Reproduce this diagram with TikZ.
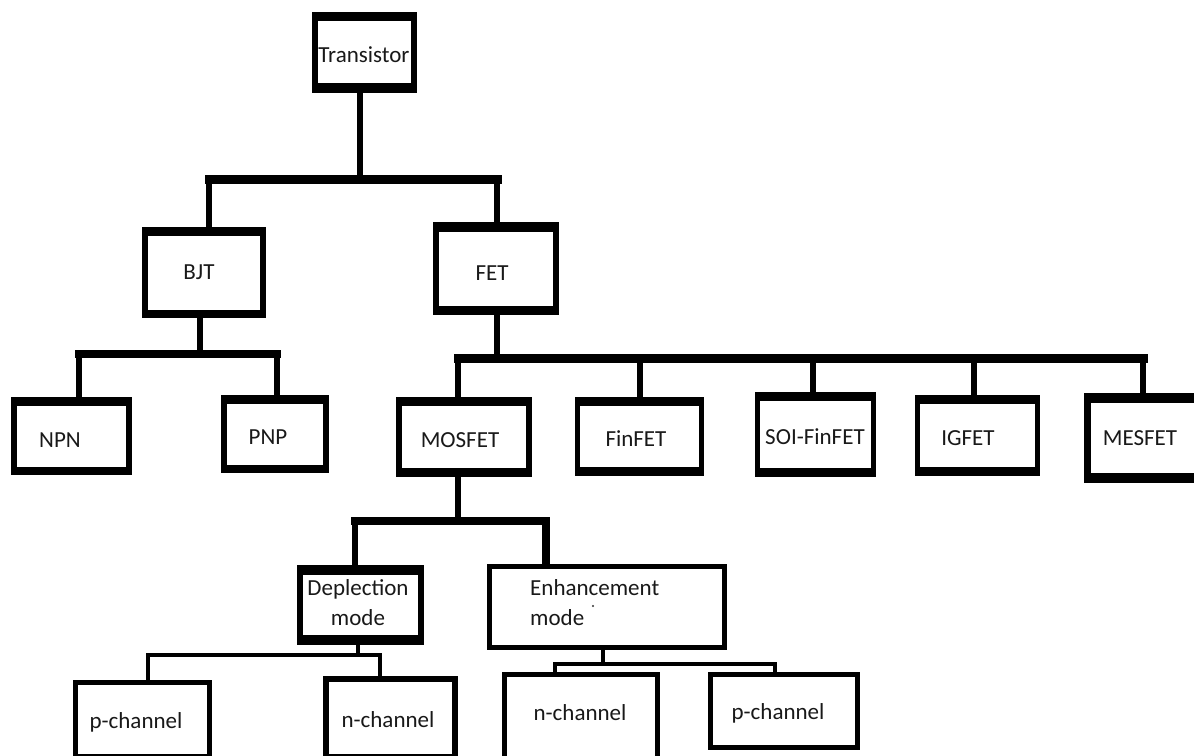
\documentclass[tikz,border=0pt]{standalone}
\usepackage{fontspec}
\setmainfont{Carlito}
\usetikzlibrary{fit}
% name, x1, y1, x2, y2, side, top, bottom
\newcommand\tboxdraw[8]{%
  \fill[black] (#2,#3) rectangle (#4,#5);
  \fill[white] (#2+#6,#3+#7) rectangle (#4-#6,#5-#8);
  \node[fit={(#2,#3) (#4,#5)}, inner sep=0pt] (#1) {};}
\begin{document}
\begin{tikzpicture}[x=1pt, y=-1pt,
  stem/.style={line width=6pt},
  bar/.style={line width=9pt, line cap=rect},
  thinline/.style={line width=4pt, line cap=rect},
  lbl/.style={font=\fontsize{23}{30}\selectfont, inner sep=0pt, text=black!90}]
\useasboundingbox (0,0) rectangle (1194,755);
\clip (0,0) rectangle (1194,755);
\fill[white] (0,0) rectangle (1194,755);

% junction coordinates
\coordinate (j0) at (360,179);
\coordinate (jb) at (209,179);
\coordinate (jf) at (497,179);
\coordinate (jb0) at (200,354);
\coordinate (jnpn) at (79,354);
\coordinate (jpnp) at (277,354);
\coordinate (jf0) at (497,358.5);
\coordinate (jmos) at (458,358.5);
\coordinate (jfin) at (640,358.5);
\coordinate (jsoi) at (813,358.5);
\coordinate (jig) at (974,358.5);
\coordinate (jmes) at (1143,358.5);
\coordinate (jm0) at (458,521);
\coordinate (jdep) at (355,521);
\coordinate (jenh) at (546,521);
\coordinate (jd0) at (358,655);
\coordinate (jpl) at (148,655);
\coordinate (jnl) at (380,655);
\coordinate (je0) at (603,664);
\coordinate (jnr) at (555,664);
\coordinate (jpr) at (775,664);

% boxes (named nodes)
\tboxdraw{T}{312}{12}{417}{93}{6}{9}{10}
\tboxdraw{BJT}{142}{227}{266}{318}{6}{9}{8}
\tboxdraw{FET}{433}{222}{559}{315}{6}{10}{9}
\tboxdraw{NPN}{11}{397}{132}{475}{6}{9}{8}
\tboxdraw{PNP}{221}{395}{329}{473}{6}{9}{8}
\tboxdraw{MOS}{396}{397}{532}{477}{6}{9}{9}
\tboxdraw{FIN}{575}{397}{704}{476}{5}{9}{9}
\tboxdraw{SOI}{755}{392}{876}{477}{5}{9}{9}
\tboxdraw{IG}{915}{395}{1040}{476}{5}{9}{9}
\tboxdraw{MES}{1084}{393}{1214}{483}{7}{10}{10}
\tboxdraw{DEP}{297}{565}{424}{645}{6}{10}{10}
\tboxdraw{ENH}{487}{564}{727}{650}{5}{5}{5}
\tboxdraw{PL}{73}{680}{212}{757}{5}{5}{3}
\tboxdraw{NL}{323}{676}{458}{757}{6}{6}{3}
\tboxdraw{NR}{502}{672}{660}{780}{5}{5}{5}
\tboxdraw{PR}{708}{672}{860}{750}{5}{5}{5}

% connectors
\draw[stem] (T.south -| j0) -- (j0);
\draw[bar] (jb) -- (jf);
\draw[stem] (jb) -- (jb |- BJT.north);
\draw[stem] (jf) -- (jf |- FET.north);

\draw[stem] (BJT.south -| jb0) -- (jb0);
\draw[bar, line width=8pt] (jnpn) -- (jpnp);
\draw[stem] (jnpn) -- (jnpn |- NPN.north);
\draw[stem] (jpnp) -- (jpnp |- PNP.north);

\draw[stem] (FET.south -| jf0) -- (jf0);
\draw[bar] (jmos) -- (jmes);
\draw[stem] (jmos) -- (jmos |- MOS.north);
\draw[stem] (jfin) -- (jfin |- FIN.north);
\draw[stem] (jsoi) -- (jsoi |- SOI.north);
\draw[stem] (jig) -- (jig |- IG.north);
\draw[stem] (jmes) -- (jmes |- MES.north);

\draw[stem] (MOS.south -| jm0) -- (jm0);
\draw[bar, line width=8pt] (jdep) -- (jenh);
\draw[stem] (jdep) -- (jdep |- DEP.north);
\draw[stem, line width=8pt] (jenh) -- (jenh |- ENH.north);

\draw[thinline] (DEP.south -| jd0) -- (jd0);
\draw[thinline] (jpl) -- (jnl);
\draw[thinline] (jpl) -- (jpl |- PL.north);
\draw[thinline] (jnl) -- (jnl |- NL.north);

\draw[thinline, line width=3.5pt] (ENH.south -| je0) -- (je0);
\draw[thinline] (jnr) -- (jpr);
\draw[thinline] (jnr) -- (jnr |- NR.north);
\draw[thinline] (jpr) -- (jpr |- PR.north);

% labels
\node[lbl] (tT) at (364,55) {Transistor};
\node[lbl] (tBJT) at (199,272) {BJT};
\node[lbl] (tFET) at (492,273) {FET};
\node[lbl] (tNPN) at (60,440) {NPN};
\node[lbl] (tPNP) at (268,437) {PNP};
\node[lbl] (tMOS) at (460,440) {MOSFET};
\node[lbl] (tFIN) at (636,439) {FinFET};
\node[lbl] (tSOI) at (815,437) {SOI-FinFET};
\node[lbl] (tIG) at (968,438) {IGFET};
\node[lbl] (tMES) at (1140,438) {MESFET};
\node[lbl, align=center] (tDEP) at (358,603) {Deplection\\mode};
\node[lbl, align=left, anchor=west] (tENH) at (530,603) {Enhancement\\mode};
\fill[black!80] (593,606) circle (1.2);
\node[lbl] (tPL) at (136,722) {p-channel};
\node[lbl] (tNL) at (388,720) {n-channel};
\node[lbl] (tNR) at (580,713) {n-channel};
\node[lbl] (tPR) at (778,713) {p-channel};
\end{tikzpicture}
\end{document}
